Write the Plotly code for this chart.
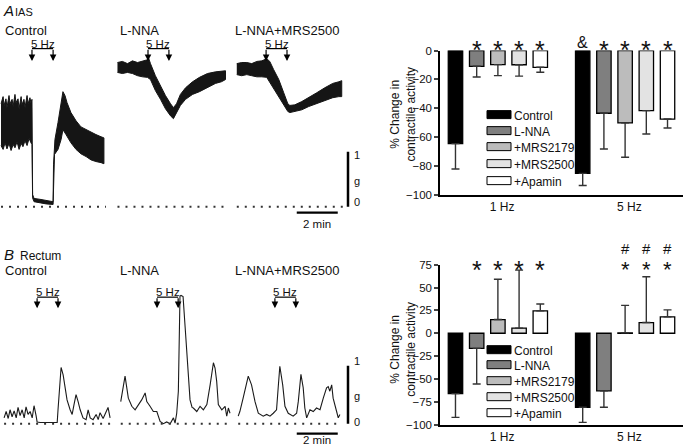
import plotly.graph_objects as go

# ================= DATA =================
# Bar charts: % change in contractile activity (mean, one-sided SEM)
freqs = ["1 Hz", "5 Hz"]
groups = ["Control", "L-NNA", "+MRS2179", "+MRS2500", "+Apamin"]
bar_colors = ["#000000", "#7f7f7f", "#bcbcbc", "#e3e3e3", "#ffffff"]

ias_1hz_mean = [-64.6, -10.9, -9.7, -9.8, -11.6]
ias_1hz_sem = [17.6, 7.4, 7.7, 7.9, 3.4]
ias_5hz_mean = [-85.2, -43.5, -50.2, -41.7, -47.5]
ias_5hz_sem = [8.5, 24.8, 23.8, 16.2, 6.2]
ias_marks_1hz = ["", "*", "*", "*", "*"]
ias_marks_5hz = ["&", "*", "*", "*", "*"]

rec_1hz_mean = [-66.0, -16.5, 15.0, 5.5, 24.5]
rec_1hz_sem = [26.0, 39.0, 44.0, 63.5, 7.5]
rec_5hz_mean = [-81.0, -63.0, 0.5, 11.7, 18.0]
rec_5hz_sem = [16.5, 18.0, 30.0, 50.0, 7.6]
rec_marks_1hz = ["", "*", "*", "*", "*"]
rec_marks_5hz = ["", "", "*", "*", "*"]
rec_hash_5hz = ["", "", "#", "#", "#"]

ias_yticks = [0, -20, -40, -60, -80, -100]
rec_yticks = [75, 50, 25, 0, -25, -50, -75, -100]

# Mechanical recordings (time in min from trace start, force in g)
trace_titles = ["Control", "L-NNA", "L-NNA+MRS2500"]

# IAS: envelope of the fast phasic activity (upper / lower edge)
ias_ctrl_t_up = [0, 0.1, 0.15, 0.24, 0.29, 0.39, 0.44, 0.54, 0.59, 0.68, 0.73, 0.83, 0.88, 0.98, 1.02, 1.12,
                 1.17, 1.27, 1.32, 1.41, 1.46, 1.51, 1.54, 1.61, 1.95, 2.2, 2.54, 2.56, 2.63, 2.78, 2.93, 3.02,
                 3.12, 3.22, 3.41, 3.66, 3.9, 4.15, 4.39, 4.63, 4.88, 5.02]
ias_ctrl_g_up = [1.87, 2.0, 1.84, 1.96, 1.8, 2.02, 1.87, 1.95, 1.82, 2.04, 1.89, 1.96, 1.78, 2.0, 1.85, 1.95,
                 1.8, 2.02, 1.87, 1.98, 1.89, 1.95, 0.22, 0.15, 0.13, 0.11, 0.09, 0.76, 1.22, 1.53, 1.89, 2.09,
                 2.02, 1.89, 1.71, 1.56, 1.45, 1.4, 1.35, 1.31, 1.27, 1.25]
ias_ctrl_t_lo = [0, 0.1, 0.2, 0.29, 0.39, 0.49, 0.59, 0.68, 0.78, 0.88, 0.98, 1.07, 1.17, 1.27, 1.37, 1.46,
                 1.51, 1.54, 1.61, 1.95, 2.2, 2.54, 2.56, 2.61, 2.78, 2.93, 3.02, 3.17, 3.41, 3.66, 3.9, 4.15,
                 4.39, 4.63, 4.88, 5.02]
ias_ctrl_g_lo = [1.11, 1.04, 1.16, 1.05, 1.15, 1.02, 1.13, 1.07, 1.18, 1.04, 1.15, 1.09, 1.2, 1.11, 1.24, 1.16,
                 1.13, 0.16, 0.09, 0.07, 0.05, 0.04, 0.13, 0.95, 1.04, 1.22, 1.4, 1.31, 1.16, 1.04, 0.96, 0.91,
                 0.85, 0.82, 0.8, 0.78]

ias_lnna_t_up = [0, 0.24, 0.49, 0.73, 0.98, 1.22, 1.46, 1.51, 1.61, 1.85, 2.1, 2.34, 2.59, 2.73, 2.88, 3.07,
                 3.32, 3.66, 4.0, 4.39, 4.78, 5.07, 5.27]
ias_lnna_g_up = [2.62, 2.64, 2.6, 2.65, 2.62, 2.64, 2.67, 2.71, 2.6, 2.38, 2.18, 2.02, 1.87, 1.8, 1.87, 2.04,
                 2.16, 2.27, 2.35, 2.42, 2.45, 2.47, 2.47]
ias_lnna_t_lo = [0, 0.24, 0.49, 0.73, 0.98, 1.22, 1.46, 1.61, 1.85, 2.1, 2.34, 2.59, 2.73, 2.88, 3.07, 3.32,
                 3.66, 4.0, 4.39, 4.78, 5.07, 5.27]
ias_lnna_g_lo = [2.44, 2.42, 2.44, 2.42, 2.38, 2.36, 2.35, 2.31, 2.11, 1.95, 1.78, 1.65, 1.6, 1.69, 1.84, 1.95,
                 2.04, 2.09, 2.16, 2.24, 2.27, 2.31]

ias_mrs_t = [0, 0.24, 0.49, 0.73, 0.98, 1.22, 1.46, 1.61, 1.8, 2.05, 2.29, 2.49, 2.59, 2.83, 3.17, 3.51,
             3.9, 4.29, 4.68, 4.98, 5.12]
ias_mrs_g_up = [2.6, 2.62, 2.62, 2.6, 2.64, 2.65, 2.69, 2.64, 2.49, 2.31, 2.07, 1.87, 1.84, 1.85, 1.91, 1.98,
                2.07, 2.16, 2.24, 2.27, 2.29]
ias_mrs_g_lo = [2.4, 2.38, 2.4, 2.38, 2.36, 2.36, 2.35, 2.27, 2.13, 1.98, 1.85, 1.73, 1.71, 1.73, 1.76, 1.82,
                1.87, 1.93, 1.98, 2.0, 2.0]

# Rectum: single traces
rec_ctrl_t = [0, 0.1, 0.2, 0.29, 0.39, 0.49, 0.59, 0.68, 0.78, 0.88, 0.98, 1.07, 1.17, 1.27, 1.37, 1.46, 1.56,
              1.61, 1.76, 2.24, 2.59, 2.63, 2.73, 2.78, 2.88, 2.98, 3.07, 3.22, 3.32, 3.41, 3.51, 3.61, 3.71,
              3.85, 4.0, 4.1, 4.2, 4.34, 4.49, 4.59, 4.68, 4.83, 4.98, 5.07, 5.17]
rec_ctrl_g = [0.1, 0.21, 0.09, 0.24, 0.12, 0.22, 0.1, 0.28, 0.14, 0.24, 0.1, 0.29, 0.16, 0.21, 0.1, 0.31, 0.14,
              0.03, 0.02, 0.02, 0.02, 0.24, 0.76, 0.97, 0.84, 0.59, 0.41, 0.24, 0.16, 0.33, 0.5, 0.38, 0.24,
              0.1, 0.07, 0.24, 0.1, 0.07, 0.16, 0.07, 0.19, 0.09, 0.21, 0.28, 0.1]
rec_lnna_t = [0, 0.21, 0.37, 0.54, 0.7, 0.86, 1.02, 1.19, 1.27, 1.43, 1.59, 1.76, 1.92, 2.08, 2.24, 2.41, 2.57,
              2.65, 2.73, 2.81, 2.89, 2.94, 3.04, 3.14, 3.23, 3.3, 3.38, 3.48, 3.54, 3.71, 3.87, 4.03, 4.2,
              4.36, 4.52, 4.6, 4.68, 4.76, 4.93, 5.09, 5.17, 5.25, 5.33]
rec_lnna_g = [0.38, 0.82, 0.44, 0.3, 0.24, 0.33, 0.41, 0.53, 0.38, 0.3, 0.21, 0.21, 0.04, 0.0, 0.03, 0.0, 0.1,
              0.01, 0.18, 0.56, 2.2, 2.21, 2.19, 1.67, 1.22, 0.76, 0.41, 0.28, 0.27, 0.21, 0.3, 0.24, 0.33,
              0.67, 1.05, 0.96, 0.73, 0.33, 0.24, 0.3, 0.13, 0.27, 0.18]
rec_mrs_t = [0, 0.08, 0.24, 0.41, 0.49, 0.65, 0.82, 0.98, 1.22, 1.39, 1.55, 1.71, 1.87, 1.95, 2.03, 2.17, 2.28,
             2.44, 2.68, 2.85, 2.93, 3.06, 3.17, 3.25, 3.34, 3.5, 3.66, 3.82, 3.99, 4.15, 4.31, 4.39, 4.47,
             4.56, 4.63, 4.8, 4.88, 4.96]
rec_mrs_g = [0.13, 0.21, 0.44, 0.73, 0.82, 0.67, 0.38, 0.18, 0.13, 0.16, 0.13, 0.18, 0.24, 0.62, 0.99, 0.67,
             0.3, 0.18, 0.13, 0.18, 0.38, 0.85, 0.62, 0.27, 0.1, 0.24, 0.21, 0.27, 0.24, 0.44, 0.62, 0.64,
             0.56, 0.67, 0.44, 0.21, 0.1, 0.16]

# 5 Hz EFS period (min from trace start)
ias_stim_on = [1.51, 1.49, 1.43]
ias_stim_off = [2.54, 2.51, 2.45]
rec_stim_on = [1.61, 1.77, 1.79]
rec_stim_off = [2.63, 2.80, 2.81]
stim_label = "5 Hz"
scale_g = 1
scale_min = 2

# ================= LAYOUT HELPERS =================
W, H = 685, 448
FONT = "Arial, 'Liberation Sans', sans-serif"
INK = "#111111"
# vertical calibration of the photographed page (observed offset / scale)
V_SHIFT, V_SCALE = 6.4, 0.973


def px(x):
    return x / W


def Y(y):
    return (y - V_SHIFT) / V_SCALE


def py(y):
    return 1 - Y(y) / H


def text_ann(x, y, text, size, xref="paper", xanchor="center", **kw):
    d = dict(x=x, y=y, xref=xref, yref="paper", text=text, showarrow=False, xanchor=xanchor,
             yanchor="middle", font=dict(family=FONT, size=size, color=INK))
    d.update(kw)
    return d


PX_PER_MIN = 20.5
TRACE_W = 352
ias_offsets = [0.05, 5.73, 11.55]
rec_offsets = [0.2, 5.89, 11.62]

fig = go.Figure()
annotations = []
shapes = []

# ================= BAR CHARTS =================
bar_panels = [
    dict(xa="x", ya="y", m1=ias_1hz_mean, s1=ias_1hz_sem, m5=ias_5hz_mean, s5=ias_5hz_sem,
         marks=[ias_marks_1hz, ias_marks_5hz], hashes=None, star_y=50, amp_y=43,
         leg=[116, 132, 148, 165, 182]),
    dict(xa="x2", ya="y2", m1=rec_1hz_mean, s1=rec_1hz_sem, m5=rec_5hz_mean, s5=rec_5hz_sem,
         marks=[rec_marks_1hz, rec_marks_5hz], hashes=rec_hash_5hz, star_y=270, amp_y=263,
         leg=[351, 366, 382, 398, 414]),
]

for p in bar_panels:
    for i, g in enumerate(groups):
        means = [p["m1"][i], p["m5"][i]]
        sems = [p["s1"][i], p["s5"][i]]
        plus = [s if m >= 0 else 0 for m, s in zip(means, sems)]
        minus = [s if m < 0 else 0 for m, s in zip(means, sems)]
        fig.add_trace(go.Bar(
            x=[i, 6 + i], y=means, width=0.68, xaxis=p["xa"], yaxis=p["ya"],
            marker=dict(color=bar_colors[i], line=dict(color="#000000", width=1.3)),
            error_y=dict(type="data", symmetric=False, array=plus, arrayminus=minus,
                         color="#333333", thickness=1.4, width=4),
            name=g, showlegend=False, hoverinfo="skip"))
        # significance symbols
        for k in range(2):
            sym = p["marks"][k][i]
            has_hash = k == 1 and p["hashes"] and p["hashes"][i]
            if has_hash:
                annotations.append(text_ann(
                    6 + i, py(p["star_y"] - 9),
                    "<span style='font-size:15px'>" + p["hashes"][i] + "</span><br>"
                    "<span style='font-size:22px'>" + sym + "</span>", 18, xref=p["xa"]))
            elif sym == "*":
                annotations.append(text_ann(6 * k + i, py(p["star_y"]), sym, 25, xref=p["xa"]))
            elif sym:
                annotations.append(text_ann(6 * k + i, py(p["amp_y"]), sym, 16, xref=p["xa"]))
        # legend swatch
        cy = p["leg"][i] - 1
        shapes.append(dict(type="rect", xref="paper", yref="paper", x0=px(487), x1=px(511),
                           y0=py(cy + 4), y1=py(cy - 4), fillcolor=bar_colors[i],
                           line=dict(color="#000000", width=1)))
        annotations.append(text_ann(px(512), py(p["leg"][i]), g, 12, xanchor="left"))

axis_common = dict(showline=True, linecolor="#000000", linewidth=1.5, showgrid=False, zeroline=False,
                   tickfont=dict(family=FONT, size=11.5, color=INK))
bar_xrange = [-0.73, 10.73]
fig.update_layout(
    xaxis=dict(axis_common, domain=[px(440), px(683)], range=bar_xrange, anchor="y",
               tickvals=[2.2, 8.2], ticktext=freqs, ticks="", tickfont=dict(family=FONT, size=12, color=INK)),
    yaxis=dict(axis_common, domain=[py(195), py(51)], range=[-100, 0], anchor="x",
               tickvals=ias_yticks, ticks="outside", ticklen=4, tickwidth=1.5),
    xaxis2=dict(axis_common, domain=[px(440), px(683)], range=bar_xrange, anchor="y2",
                tickvals=[2.2, 8.2], ticktext=freqs, ticks="", tickfont=dict(family=FONT, size=12, color=INK)),
    yaxis2=dict(axis_common, domain=[py(425), py(265)], range=[-100, 75], anchor="x2",
                tickvals=rec_yticks, ticks="outside", ticklen=4, tickwidth=1.5),
)
for yc in (115, 350):
    annotations.append(text_ann(px(403), py(yc), "% Change in<br>contractile activity", 12, textangle=-90))

# ================= RECORDINGS =================
fig.update_layout(
    xaxis3=dict(domain=[0, px(TRACE_W)], range=[0, TRACE_W / PX_PER_MIN], anchor="y3", visible=False),
    yaxis3=dict(domain=[py(218), py(38)], range=[-(218 - 207) / 55, (207 - 38) / 55], anchor="x3",
                visible=False),
    xaxis4=dict(domain=[0, px(TRACE_W)], range=[0, TRACE_W / PX_PER_MIN], anchor="y4", visible=False),
    yaxis4=dict(domain=[py(440), py(280)], range=[-(440 - 424) / 58, (424 - 280) / 58], anchor="x4",
                visible=False),
)

ias_bands = [
    (ias_ctrl_t_up, ias_ctrl_g_up, ias_ctrl_t_lo, ias_ctrl_g_lo),
    (ias_lnna_t_up, ias_lnna_g_up, ias_lnna_t_lo, ias_lnna_g_lo),
    (ias_mrs_t, ias_mrs_g_up, ias_mrs_t, ias_mrs_g_lo),
]
for off, (tu, gu, tl, gl) in zip(ias_offsets, ias_bands):
    xs = [off + t for t in tu] + [off + t for t in tl[::-1]]
    ys = list(gu) + list(gl[::-1])
    fig.add_trace(go.Scatter(x=xs, y=ys, xaxis="x3", yaxis="y3", mode="lines", fill="toself",
                             fillcolor="#151515", line=dict(color="#151515", width=1),
                             showlegend=False, hoverinfo="skip"))
    fig.add_trace(go.Scatter(x=[off, off + max(tu) + 0.1], y=[0, 0], xaxis="x3", yaxis="y3", mode="lines",
                             line=dict(color="#333333", width=2, dash="2px,6px"),
                             showlegend=False, hoverinfo="skip"))

rec_traces = [(rec_ctrl_t, rec_ctrl_g), (rec_lnna_t, rec_lnna_g), (rec_mrs_t, rec_mrs_g)]
for off, (t, g) in zip(rec_offsets, rec_traces):
    fig.add_trace(go.Scatter(x=[off + v for v in t], y=g, xaxis="x4", yaxis="y4", mode="lines",
                             line=dict(color="#1a1a1a", width=1.1), showlegend=False, hoverinfo="skip"))
    fig.add_trace(go.Scatter(x=[off, off + max(t) + 0.05], y=[0, 0], xaxis="x4", yaxis="y4", mode="lines",
                             line=dict(color="#333333", width=2, dash="2px,6px"),
                             showlegend=False, hoverinfo="skip"))

# scale bars (1 g vertical, 2 min horizontal)
scale_x = 348 / PX_PER_MIN
for xa, ya, hbar_g in (("x3", "y3", -0.11), ("x4", "y4", -0.17)):
    fig.add_trace(go.Scatter(x=[scale_x, scale_x], y=[0, scale_g], xaxis=xa, yaxis=ya, mode="lines",
                             line=dict(color="#000000", width=2.5), showlegend=False, hoverinfo="skip"))
    fig.add_trace(go.Scatter(x=[scale_x - 0.5 - scale_min, scale_x - 0.5], y=[hbar_g, hbar_g], xaxis=xa,
                             yaxis=ya, mode="lines", line=dict(color="#000000", width=2.2),
                             showlegend=False, hoverinfo="skip"))
for ys_ in ((155.5, 181, 202, 224), (361, 396, 422, 440)):
    for txt, yy in zip(["1", "g", "0"], ys_[:3]):
        annotations.append(text_ann(px(352), py(yy), txt, 11, xanchor="left"))
    annotations.append(text_ann(px(317), py(ys_[3]), f"{scale_min} min", 11.5))

# stimulation brackets
for xa, offs, ons, offs_, (ytxt, ybr, ytip) in (
        ("x3", ias_offsets, ias_stim_on, ias_stim_off, (44.5, 49, 61.5)),
        ("x4", rec_offsets, rec_stim_on, rec_stim_off, (292, 297.5, 308.5))):
    for off, t0, t1 in zip(offs, ons, offs_):
        a, b = off + t0, off + t1
        shapes.append(dict(type="line", xref=xa, yref="paper", x0=a, x1=b, y0=py(ybr), y1=py(ybr),
                           line=dict(color="#000000", width=1.2)))
        for tx in (a, b):
            annotations.append(dict(x=tx, y=py(ytip), xref=xa, yref="paper", text="", showarrow=True,
                                    ax=0, ay=-(Y(ytip) - Y(ybr)), arrowhead=2, arrowsize=1.1, arrowwidth=1.2,
                                    arrowcolor="#000000", standoff=0))
        annotations.append(text_ann((a + b) / 2, py(ytxt), stim_label, 11.5, xref=xa))

# titles
for yy in (31, 271):
    for txt, xx in zip(trace_titles, [3, 118, 233]):
        annotations.append(text_ann(px(xx), py(yy), txt, 13, xanchor="left"))
annotations.append(text_ann(px(1), py(10.5), "<i>A</i>", 15, xanchor="left"))
annotations.append(text_ann(px(12.5), py(12), "IAS", 11, xanchor="left"))
annotations.append(text_ann(px(2), py(255), "<i>B</i>", 15, xanchor="left"))
annotations.append(text_ann(px(18), py(256.5), "Rectum", 12, xanchor="left"))

fig.update_layout(
    width=W, height=H, margin=dict(l=0, r=0, t=0, b=0),
    paper_bgcolor="#ffffff", plot_bgcolor="#ffffff", barmode="overlay", showlegend=False,
    annotations=annotations, shapes=shapes, font=dict(family=FONT, color=INK),
)

fig.write_html(
    "out.html",
    config={"displayModeBar": False},
    post_script="document.body.style.margin='0';",
)
